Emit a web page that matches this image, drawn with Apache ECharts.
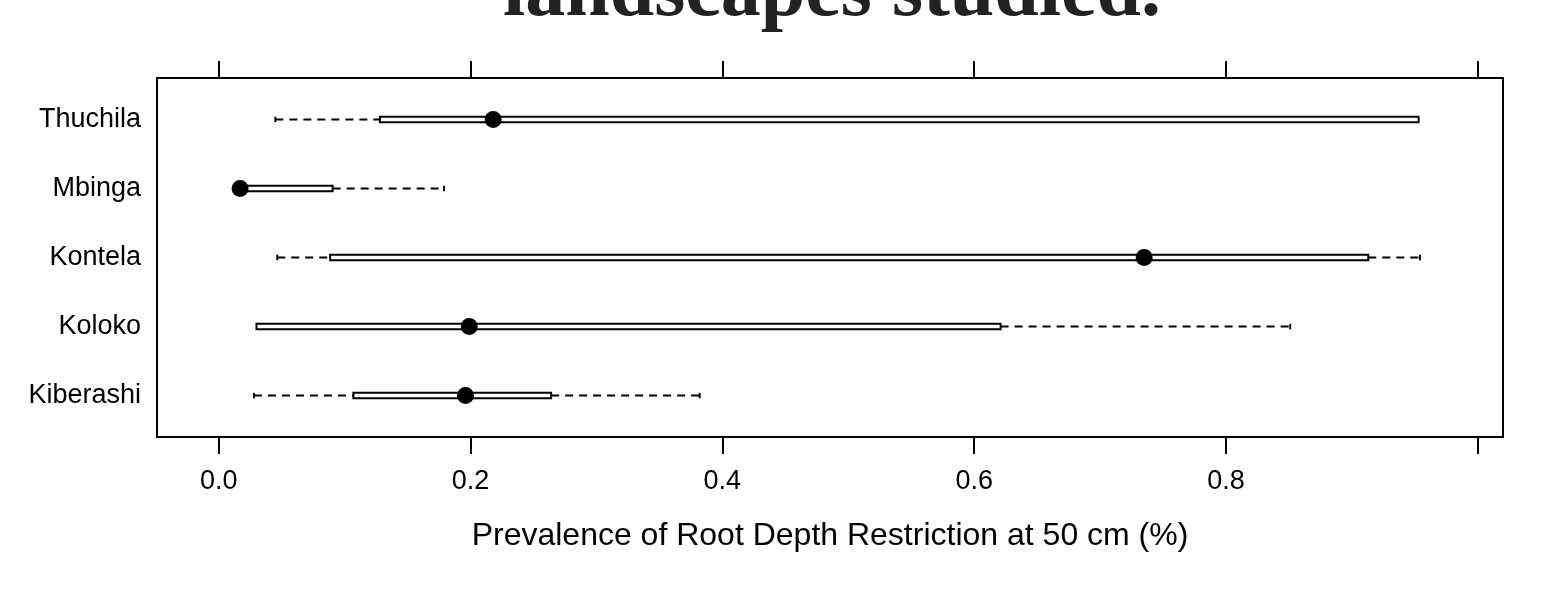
<!DOCTYPE html>
<html>
<head>
<meta charset="utf-8">
<script src="https://cdn.jsdelivr.net/npm/echarts@6/dist/echarts.min.js"></script>
<style>
  html, body { margin: 0; padding: 0; background: #fff; }
  #chart { width: 1558px; height: 600px; }
</style>
</head>
<body>
<div id="chart"></div>
<script>
// sites from bottom (1) to top (5), like lattice bwplot
var sites = ['Kiberashi', 'Koloko', 'Kontela', 'Mbinga', 'Thuchila'];
var whiskerLow  = [0.028, 0.030, 0.0465, 0.017, 0.045];
var q1          = [0.107, 0.030, 0.0885, 0.017, 0.128];
var median      = [0.196, 0.199, 0.735, 0.017, 0.218];
var q3          = [0.264, 0.621, 0.913, 0.0905, 0.953];
var whiskerHigh = [0.382, 0.851, 0.954, 0.179, 0.953];

var xTicks = [0, 0.2, 0.4, 0.6, 0.8, 1.0];
var xTickLabels = [0, 0.2, 0.4, 0.6, 0.8];
var siteRows = [1, 2, 3, 4, 5];

var FONT = "'Liberation Sans', Arial, Helvetica, sans-serif";

var boxData = sites.map(function (s, i) {
  return [i + 1, whiskerLow[i], q1[i], median[i], q3[i], whiskerHigh[i]];
});

// draws one box-and-whisker row
function renderBox (params, api) {
  var y = api.value(0);
  var lo = api.coord([api.value(1), y]);
  var b1 = api.coord([api.value(2), y]);
  var md = api.coord([api.value(3), y]);
  var b3 = api.coord([api.value(4), y]);
  var hi = api.coord([api.value(5), y]);
  var cy = md[1];
  var h = 5.5;
  var dash = { stroke: '#000', lineWidth: 2, lineDash: [8, 6] };
  var solid = { stroke: '#000', lineWidth: 2 };
  var kids = [];

  if (b1[0] - lo[0] > 1) {
    kids.push({ type: 'line', shape: { x1: lo[0], y1: cy, x2: b1[0], y2: cy }, style: dash });
    kids.push({ type: 'line', shape: { x1: lo[0], y1: cy - h / 2, x2: lo[0], y2: cy + h / 2 }, style: solid });
  }
  if (hi[0] - b3[0] > 1) {
    kids.push({ type: 'line', shape: { x1: b3[0], y1: cy, x2: hi[0], y2: cy }, style: dash });
    kids.push({ type: 'line', shape: { x1: hi[0], y1: cy - h / 2, x2: hi[0], y2: cy + h / 2 }, style: solid });
  }
  kids.push({
    type: 'rect',
    shape: { x: b1[0], y: cy - h / 2, width: b3[0] - b1[0], height: h },
    style: { fill: '#fff', stroke: '#000', lineWidth: 2 }
  });
  kids.push({
    type: 'circle',
    shape: { cx: md[0], cy: cy, r: 8.5 },
    style: { fill: '#000' }
  });
  return { type: 'group', children: kids };
}

var myChart = echarts.init(document.getElementById('chart'));

var option = {
  animation: false,
  backgroundColor: '#fff',
  title: {
    text: 'landscapes studied.',
    left: 827,
    top: -51,
    textAlign: 'center',
    textStyle: {
      fontFamily: "'Liberation Serif', 'Times New Roman', serif",
      fontWeight: 'bold',
      fontSize: 80,
      color: '#222'
    }
  },
  grid: {
    left: 157,
    right: 55,
    top: 78,
    bottom: 163,
    show: true,
    borderColor: '#000',
    borderWidth: 2,
    backgroundColor: 'transparent'
  },
  xAxis: [{
    type: 'value',
    position: 'bottom',
    min: -0.049,
    max: 1.02,
    splitLine: { show: false },
    axisLine: { show: false },
    axisTick: {
      show: true,
      customValues: xTicks,
      length: 17,
      lineStyle: { color: '#000', width: 2 }
    },
    axisLabel: {
      show: true,
      customValues: xTickLabels,
      formatter: function (v) { return v.toFixed(1) },
      margin: 31,
      color: '#000',
      fontSize: 27,
      fontFamily: FONT
    },
    name: 'Prevalence of Root Depth Restriction at 50 cm (%)',
    nameLocation: 'middle',
    nameGap: 83,
    nameTextStyle: { color: '#000', fontSize: 32, fontFamily: FONT }
  }, {
    type: 'value',
    position: 'top',
    min: -0.049,
    max: 1.02,
    splitLine: { show: false },
    axisLine: { show: false },
    axisTick: {
      show: true,
      customValues: xTicks,
      length: 17,
      lineStyle: { color: '#000', width: 2 }
    },
    axisLabel: { show: false }
  }],
  yAxis: {
    type: 'value',
    min: 0.4,
    max: 5.6,
    splitLine: { show: false },
    axisLine: { show: false },
    axisTick: { show: false },
    axisLabel: {
      customValues: siteRows,
      formatter: function (v) { return sites[Math.round(v) - 1] },
      margin: 16,
      color: '#000',
      fontSize: 27,
      fontFamily: FONT
    }
  },
  series: [{
    type: 'custom',
    xAxisIndex: 0,
    renderItem: renderBox,
    encode: { x: [1, 2, 3, 4, 5], y: 0 },
    data: boxData,
    silent: true
  }]
};

myChart.setOption(option);
</script>
</body>
</html>
